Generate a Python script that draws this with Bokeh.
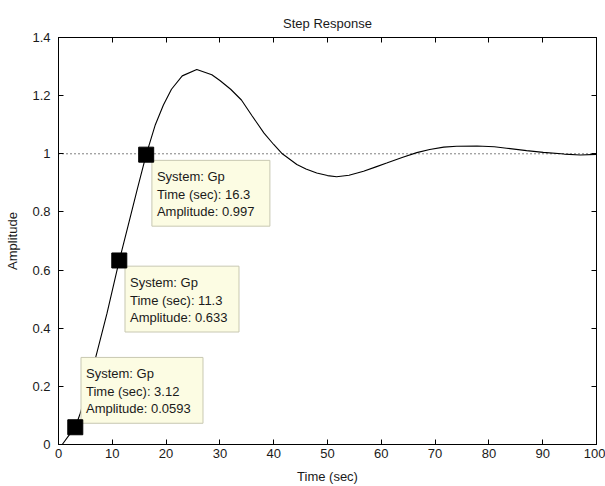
from bokeh.plotting import figure
from bokeh.models import (Range1d, LinearAxis, FixedTicker, Span,
                          CustomJSTickFormatter)
from bokeh.embed import file_html
from bokeh.resources import INLINE
from bokeh.core.properties import value

# ---------------- data ----------------
time_s = [0, 0.7, 2, 3.12, 4, 5, 6, 7.2, 9, 11.3, 13, 14.6, 16.3, 18, 19.5,
          21, 23, 25.7, 28.5, 30, 32, 34, 36, 38.2, 40, 41.6, 44.3, 46, 48,
          50, 51.7, 54, 56.7, 59, 61, 64, 66.6, 69, 71.6, 74, 77.8, 81, 83.3,
          87, 90.1, 94, 97, 100]
amplitude = [0, 0, 0.033, 0.0593, 0.105, 0.165, 0.235, 0.32, 0.45, 0.633,
             0.757, 0.875, 0.997, 1.10, 1.168, 1.222, 1.268, 1.29, 1.272,
             1.252, 1.222, 1.185, 1.13, 1.071, 1.032, 1.0, 0.963, 0.948,
             0.934, 0.925, 0.921, 0.926, 0.940, 0.955, 0.968, 0.988, 1.004,
             1.015, 1.023, 1.026, 1.027, 1.024, 1.019, 1.011, 1.005, 0.999,
             0.996, 0.998]

tip_system = ["Gp", "Gp", "Gp"]
tip_time = [3.12, 11.3, 16.3]
tip_amp = [0.0593, 0.633, 0.997]

x_ticks = [0, 10, 20, 30, 40, 50, 60, 70, 80, 90, 100]
y_ticks = [0, 0.2, 0.4, 0.6, 0.8, 1, 1.2, 1.4]

# ---------------- layout / style ----------------
W, H = 605, 486
B_LEFT, B_RIGHT, B_TOP, B_BOTTOM = 58, 9, 37, 41
X0, X1, Y0, Y1 = 0, 100, 0, 1.4
FONT = "Liberation Sans"
TXT = "#1a1a1a"

p = figure(width=W, height=H, x_range=Range1d(X0, X1), y_range=Range1d(Y0, Y1),
           output_backend="svg", toolbar_location=None,
           min_border_left=B_LEFT, min_border_right=B_RIGHT,
           min_border_top=B_TOP, min_border_bottom=B_BOTTOM,
           x_axis_label="Time (sec)", y_axis_label="Amplitude",
           title="Step Response")
p.background_fill_color = "white"
p.border_fill_color = "white"
p.outline_line_color = "black"
p.outline_line_width = 1
p.xgrid.visible = False
p.ygrid.visible = False

p.title.align = "center"
p.title.text_font = FONT
p.title.text_font_size = "13px"
p.title.text_font_style = "normal"
p.title.text_color = TXT
p.title.standoff = 13

fmt = CustomJSTickFormatter(code="return String(tick);")
blank = CustomJSTickFormatter(code="return '';")

def style_axis(ax, ticks, show_labels=True):
    ax.ticker = FixedTicker(ticks=ticks)
    ax.minor_tick_line_color = None
    ax.major_tick_in = 5
    ax.major_tick_out = 0
    ax.axis_line_color = "black"
    ax.major_tick_line_color = "black"
    ax.major_label_text_font = FONT
    ax.major_label_text_color = TXT
    ax.major_label_text_font_size = "13px"
    ax.axis_label_text_font = FONT
    ax.axis_label_text_font_style = "normal"
    ax.axis_label_text_font_size = "13px"
    ax.axis_label_text_color = TXT
    if show_labels:
        ax.formatter = fmt
    else:
        ax.formatter = blank
        ax.major_label_standoff = 0

style_axis(p.xaxis[0], x_ticks)
style_axis(p.yaxis[0], y_ticks)
p.xaxis[0].major_label_standoff = 4
p.xaxis[0].axis_label_standoff = 8
p.yaxis[0].major_label_standoff = 8
p.yaxis[0].axis_label_standoff = 9

top_ax = LinearAxis()
style_axis(top_ax, x_ticks, show_labels=False)
right_ax = LinearAxis()
style_axis(right_ax, y_ticks, show_labels=False)
p.add_layout(top_ax, "above")
p.add_layout(right_ax, "right")

# dotted steady-state line
p.add_layout(Span(location=1, dimension="width", line_color="black",
                  line_dash="1 3", line_width=1, level="underlay"))

# step response curve
p.line(time_s, amplitude, line_color="black", line_width=1.1)

# ---------------- data tips ----------------
fw = W - B_LEFT - B_RIGHT
fh = H - B_TOP - B_BOTTOM
sx = fw / (X1 - X0)       # px per data unit, x
sy = fh / (Y1 - Y0)       # px per data unit, y

placement = ["above", "below", "below"]
box_w = [122, 114, 118]
box_h = 66
dx_box = 5.7
dy_box = 5.7
pad_x = 5
line_off = [16.3, 34.0, 51.5]

left, right, top, bottom = [], [], [], []
tx, ty, tt = [], [], []
for i, (sysn, t, a) in enumerate(zip(tip_system, tip_time, tip_amp)):
    l = t + dx_box / sx
    r = l + box_w[i] / sx
    if placement[i] == "below":
        tp = a - dy_box / sy
    else:
        tp = a + (4 + box_h) / sy
    bt = tp - box_h / sy
    left.append(l); right.append(r); top.append(tp); bottom.append(bt)
    lines = ["System: " + sysn, "Time (sec): " + str(t), "Amplitude: " + str(a)]
    for k, s in enumerate(lines):
        tx.append(l + pad_x / sx)
        ty.append(tp - line_off[k] / sy)
        tt.append(s)

p.quad(left=left, right=right, top=top, bottom=bottom,
       fill_color="#fcfce3", line_color="#c8c8b2", line_width=1)
p.text(x=tx, y=ty, text=tt, text_font=value(FONT), text_font_size="13px",
       text_color=TXT, text_baseline="middle", text_align="left")
p.scatter(tip_time, tip_amp, marker="square", size=15,
          fill_color="black", line_color="black")

open("out.html", "w").write(file_html(p, INLINE))
